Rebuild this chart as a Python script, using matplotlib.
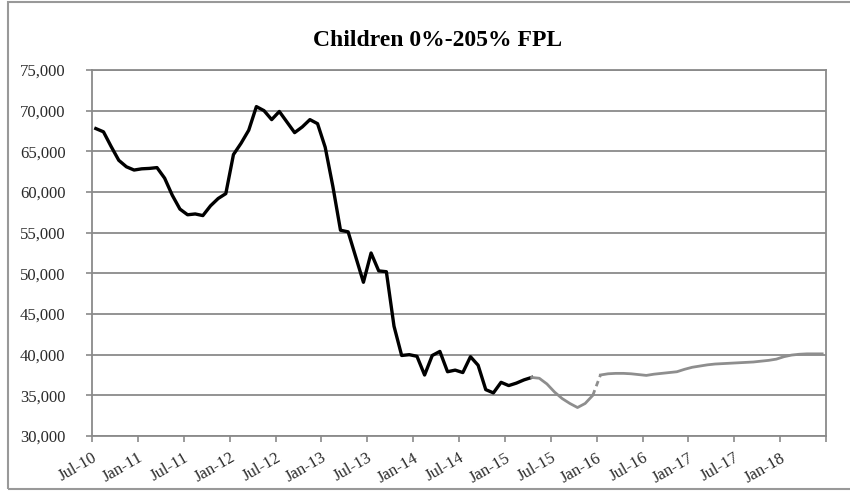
import numpy as np
import matplotlib
matplotlib.use("Agg")
import matplotlib.pyplot as plt
from matplotlib.patches import Rectangle


TITLE = "Children 0%-205% FPL"

# monthly values starting Jul-10
actual = [
    67800, 67400, 65600, 63900, 63100, 62700, 62850, 62900, 63000, 61700,
    59600, 57900, 57200, 57300, 57100, 58300, 59200, 59800, 64600, 66000,
    67600, 70500, 70000, 68900, 69900, 68600, 67300, 68000, 68900, 68400,
    65500, 60700, 55300, 55100, 52000, 48900, 52500, 50300, 50200, 43500,
    39900, 40000, 39800, 37500, 39900, 40400, 37900, 38100, 37800, 39750,
    38700, 35700, 35300, 36600, 36200, 36500, 36900, 37200,
]
projected_a = [37200, 37100, 36400, 35400, 34600, 34000, 33500, 34000, 35000]
projected_b = [
    37500, 37650, 37700, 37700, 37650, 37550, 37450, 37600, 37700, 37800,
    37900, 38200, 38450, 38600, 38750, 38850, 38900, 38950, 39000, 39050,
    39100, 39200, 39300, 39450, 39750, 39950, 40050, 40100, 40100, 40100,
]

tick_labels = ["Jul-10", "Jan-11", "Jul-11", "Jan-12", "Jul-12", "Jan-13",
               "Jul-13", "Jan-14", "Jul-14", "Jan-15", "Jul-15", "Jan-16",
               "Jul-16", "Jan-17", "Jul-17", "Jan-18", ""]
y_ticks = list(range(30000, 75001, 5000))


def plot_chart():
    plt.rcParams["font.family"] = ["Liberation Serif", "DejaVu Serif"]
    fig = plt.figure(figsize=(8.5, 4.91), dpi=100)
    ax = fig.add_axes([92 / 850, 1 - 436 / 491, (826 - 92) / 850, (436 - 70) / 491])

    grid_col = "#8a8a8a"
    gray = "#8e8e8e"

    n_a = len(actual)
    x_a = np.arange(n_a) + 0.5
    x_pa = np.arange(n_a - 1, n_a - 1 + len(projected_a)) + 0.5
    start_b = x_pa[-1] + 1
    x_pb = np.arange(len(projected_b)) + start_b

    ax.plot(x_a, actual, color="black", lw=2.4, solid_joinstyle="round", zorder=3)
    ax.plot(x_pa, projected_a, color=gray, lw=2.0, zorder=3)
    ax.plot([x_pa[-1], x_pb[0]], [projected_a[-1], projected_b[0]],
            color=gray, lw=2.0, ls=(0, (2, 1.5)), zorder=3)
    ax.plot(x_pb, projected_b, color=gray, lw=2.0, zorder=3)

    ax.set_xlim(0, 96)
    ax.set_ylim(30000, 75000)
    ax.set_yticks(y_ticks)
    ax.set_yticklabels([f"{v:,}" for v in y_ticks], fontsize=12, color="#2a2a2a")
    ax.set_xticks(np.arange(0, 97, 6))
    ax.set_xticklabels(tick_labels, rotation=30, ha="right",
                       rotation_mode="anchor", fontsize=12, color="#2a2a2a")
    ax.tick_params(axis="both", direction="out", length=4, color=grid_col, width=1.2)
    ax.tick_params(axis="y", pad=15)
    ax.tick_params(axis="x", pad=6)

    ax.yaxis.grid(True, color=grid_col, lw=1.3)
    ax.set_axisbelow(True)
    for side in ["left", "right", "top", "bottom"]:
        ax.spines[side].set_color(grid_col)
        ax.spines[side].set_linewidth(1.3)

    fig.text(438 / 850, 1 - 40 / 491, TITLE, ha="center", va="center",
             fontsize=17, fontweight="bold")

    frame = Rectangle((8 / 850, 2 / 491), 1.0, 1 - 4 / 491, transform=fig.transFigure,
                      fill=False, edgecolor="#999999", lw=1.5)
    fig.patches.append(frame)

    fig.savefig("out.png", dpi=100)


def main():
    plot_chart()


if __name__ == "__main__":
    main()
